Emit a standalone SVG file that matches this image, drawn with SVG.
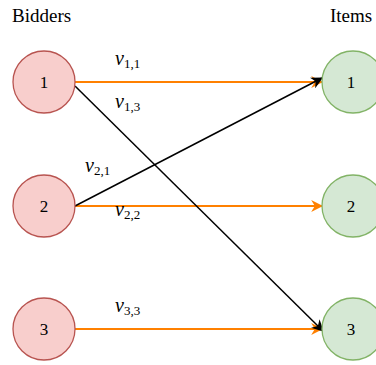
<svg xmlns="http://www.w3.org/2000/svg" width="376" height="365" viewBox="0 0 376 365">
  <style>
    .bidder { fill: #f8cecc; stroke: #b85450; stroke-width: 1.3; }
    .item { fill: #d5e8d4; stroke: #82b366; stroke-width: 1.3; }
    .num { font-family: "Liberation Serif", serif; font-size: 17px; text-anchor: middle; fill: #000; }
    .head { font-family: "Liberation Serif", serif; font-size: 19px; fill: #000; }
    .lbl { font-family: "Liberation Serif", serif; font-size: 20px; font-style: italic; fill: #000; }
    .sub { font-size: 13px; font-style: normal; }
    .win { stroke: #ff8000; stroke-width: 2; fill: none; }
    .alt { stroke: #000; stroke-width: 1.5; fill: none; }
  </style>
  <defs>
    <marker id="arrowOrange" viewBox="0 0 10 10" refX="9" refY="5" markerWidth="12" markerHeight="12" markerUnits="userSpaceOnUse" orient="auto">
      <path d="M0,0 L10,5 L0,10 L3,5 Z" fill="#ff8000"/>
    </marker>
    <marker id="arrowBlack" viewBox="0 0 10 10" refX="9" refY="5" markerWidth="12" markerHeight="12" markerUnits="userSpaceOnUse" orient="auto">
      <path d="M0,0 L10,5 L0,10 L3,5 Z" fill="#000"/>
    </marker>
  </defs>

  <text class="head" x="12" y="22">Bidders</text>
  <text class="head" x="330" y="22">Items</text>

  <g id="connectors">
    <line class="win" x1="75" y1="82" x2="322" y2="82" marker-end="url(#arrowOrange)"/>
    <line class="win" x1="75" y1="206" x2="322" y2="206" marker-end="url(#arrowOrange)"/>
    <line class="win" x1="75" y1="329" x2="322" y2="329" marker-end="url(#arrowOrange)"/>
    <line class="alt" x1="75" y1="86" x2="323" y2="331" marker-end="url(#arrowBlack)"/>
    <line class="alt" x1="75" y1="206" x2="322" y2="78" marker-end="url(#arrowBlack)"/>
  </g>

  <g id="labels">
    <text class="lbl" x="115" y="65">v<tspan class="sub" dy="3">1,1</tspan></text>
    <text class="lbl" x="115" y="108">v<tspan class="sub" dy="3">1,3</tspan></text>
    <text class="lbl" x="85" y="172">v<tspan class="sub" dy="3">2,1</tspan></text>
    <text class="lbl" x="115" y="216">v<tspan class="sub" dy="3">2,2</tspan></text>
    <text class="lbl" x="115" y="312">v<tspan class="sub" dy="3">3,3</tspan></text>
  </g>

  <g id="bidder1"><circle class="bidder" cx="44" cy="82" r="31"/><text class="num" x="44" y="88">1</text></g>
  <g id="bidder2"><circle class="bidder" cx="44" cy="206" r="31"/><text class="num" x="44" y="212">2</text></g>
  <g id="bidder3"><circle class="bidder" cx="44" cy="329" r="31"/><text class="num" x="44" y="335">3</text></g>

  <g id="item1"><circle class="item" cx="353" cy="82" r="31"/><text class="num" x="351" y="88">1</text></g>
  <g id="item2"><circle class="item" cx="353" cy="206" r="31"/><text class="num" x="351" y="212">2</text></g>
  <g id="item3"><circle class="item" cx="353" cy="329" r="31"/><text class="num" x="351" y="335">3</text></g>
</svg>
